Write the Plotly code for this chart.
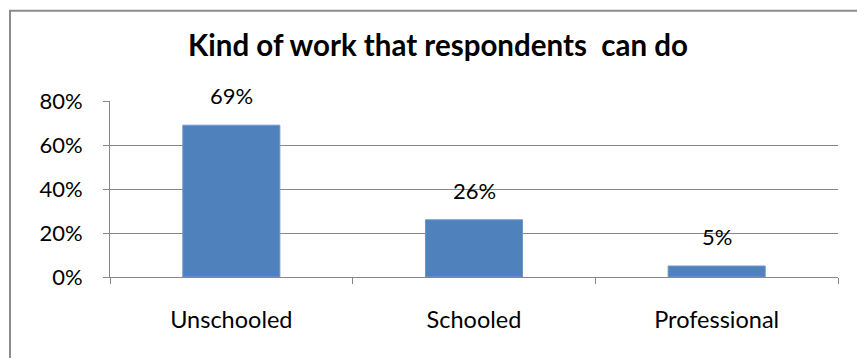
import plotly.graph_objects as go

# Survey result: kind of work respondents can do
categories = ["Unschooled", "Schooled", "Professional"]
shares = [0.69, 0.26, 0.05]
y_ticks = [0, 0.2, 0.4, 0.6, 0.8]
y_tick_labels = ["0%", "20%", "40%", "60%", "80%"]

W, H = 857, 358
FONT = "Lato"
GRAY = "#878787"
BAR = "#4F81BD"

fig = go.Figure()
fig.add_trace(go.Bar(
    x=categories,
    y=shares,
    marker=dict(color=BAR, line=dict(color="#6f97c9", width=1)),
    hoverinfo="skip",
))

# value labels above each bar
for c, v in zip(categories, shares):
    fig.add_annotation(
        x=c, y=v, xref="x", yref="y",
        text=f"{round(v * 100)}%",
        showarrow=False, yanchor="bottom", yshift=14,
        font=dict(family=FONT, size=22, color="#000000"),
    )

# chart frame
fig.add_shape(
    type="rect", xref="paper", yref="paper",
    x0=(10 - 110) / 728, x1=(880 - 110) / 728,
    y0=(277 - 380) / 176.5, y1=(277 - 10) / 176.5,
    line=dict(color="#8c8c8c", width=2), layer="below",
)

fig.update_layout(
    width=W, height=H,
    margin=dict(l=110, r=19, t=100.5, b=81, pad=0),
    paper_bgcolor="white", plot_bgcolor="white",
    bargap=0.6,
    showlegend=False,
    title=dict(
        text="<b>Kind of work that respondents  can do</b>",
        xref="container", yref="container",
        x=438 / W, xanchor="center",
        y=1 - 35 / H, yanchor="top",
        font=dict(family=FONT, size=29.5, color="#000000"),
    ),
    font=dict(family=FONT, size=22, color="#000000"),
)

fig.update_xaxes(
    type="category",
    showline=True, linecolor=GRAY, linewidth=1,
    ticks="outside", tickson="boundaries", ticklen=6, tickcolor=GRAY,
    showgrid=False,
    ticklabelstandoff=22,
    tickfont=dict(family=FONT, size=23.5, color="#000000"),
)

fig.update_yaxes(
    range=[0, 0.8],
    tickvals=y_ticks, ticktext=y_tick_labels,
    showline=True, linecolor=GRAY, linewidth=1,
    ticks="outside", ticklen=6, tickcolor=GRAY,
    showgrid=True, gridcolor=GRAY, gridwidth=1,
    zeroline=False,
    ticklabelstandoff=16,
    tickfont=dict(family=FONT, size=22, color="#000000"),
)

fig.write_html("out.html")
